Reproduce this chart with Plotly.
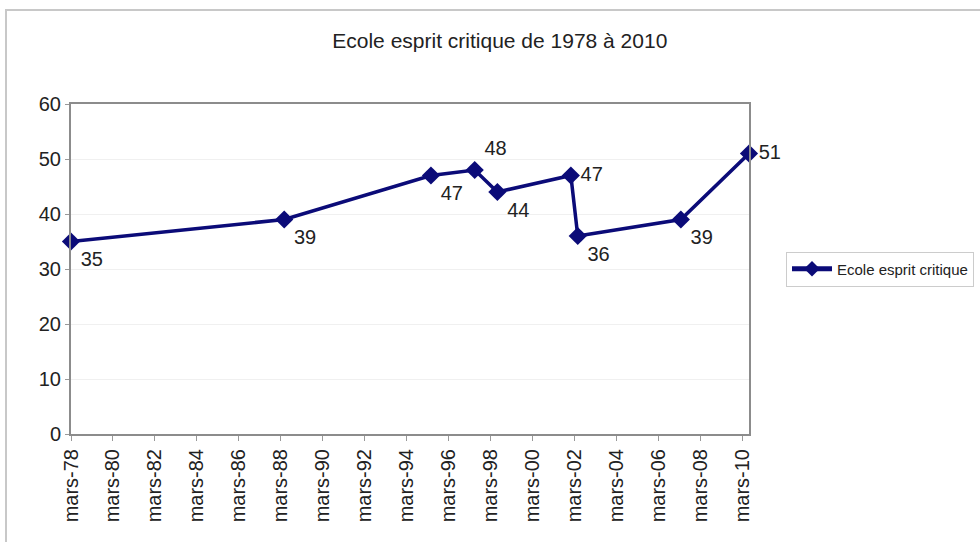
import plotly.graph_objects as go

# Survey dates and scores
dates = ["1978-03-01", "1988-05-01", "1995-05-01", "1997-06-01", "1998-07-01",
         "2002-01-01", "2002-05-01", "2007-04-01", "2010-07-01"]
scores = [35, 39, 47, 48, 44, 47, 36, 39, 51]
label_pos = ["bottom right", "bottom right", "bottom right", "top right", "bottom right",
             "middle right", "bottom right", "bottom right", "middle right"]

tick_years = list(range(1978, 2011, 2))
tick_vals = [f"{y}-03-01" for y in tick_years]
tick_text = [f"mars-{y % 100:02d}" for y in tick_years]

series_name = "Ecole esprit critique"
title_text = "Ecole esprit critique de 1978 à 2010"

FONT = "Liberation Sans, Arial, sans-serif"
NAVY = "#0b0b78"

# plot area in pixels
L, R, T, B = 71, 749, 104, 434
PW, PH = R - L, B - T

fig = go.Figure()
fig.add_trace(go.Scatter(
    x=dates, y=scores, name=series_name,
    mode="lines+markers+text",
    text=[str(v) for v in scores],
    textposition=label_pos,
    textfont=dict(family=FONT, size=20, color="#222222"),
    line=dict(color=NAVY, width=3.5),
    marker=dict(symbol="diamond", size=14, color=NAVY),
    cliponaxis=False,
))

fig.update_layout(
    width=980, height=542,
    margin=dict(l=L, r=980 - R, t=T, b=542 - B, autoexpand=False),
    paper_bgcolor="white", plot_bgcolor="white",
    font=dict(family=FONT, color="#222222"),
    title=dict(text=title_text, x=0.51, xanchor="center", y=1 - 41 / 542, yanchor="middle",
               font=dict(family=FONT, size=21, color="#222222")),
    showlegend=True,
    legend=dict(x=(786 - L) / PW, y=0.5, xref="paper", yref="paper",
                xanchor="left", yanchor="middle",
                bordercolor="#cccccc", borderwidth=1,
                font=dict(family=FONT, size=15, color="#222222"),
                itemwidth=40, itemsizing="constant"),
    xaxis=dict(
        type="date",
        range=[dates[0], dates[-1]],
        tickvals=tick_vals, ticktext=tick_text,
        tickangle=-90,
        tickfont=dict(family=FONT, size=20, color="#222222"),
        ticks="outside", ticklen=5, tickcolor="#999999",
        showline=True, linecolor="#8c8c8c", linewidth=2, mirror=True,
        showgrid=False, zeroline=False,
    ),
    yaxis=dict(
        range=[0, 60], dtick=10,
        tickfont=dict(family=FONT, size=20, color="#222222"),
        ticks="outside", ticklen=4, tickcolor="#999999",
        showline=True, linecolor="#8c8c8c", linewidth=2, mirror=True,
        showgrid=True, gridcolor="#f0f0f0", gridwidth=1,
        zeroline=False,
    ),
)

# Outer chart frame
fig.add_shape(type="rect", xref="paper", yref="paper",
              x0=(6 - L) / PW, x1=(990 - L) / PW,
              y0=(B - 560) / PH, y1=(B - 10) / PH,
              line=dict(color="#c8c8c8", width=2), fillcolor="rgba(0,0,0,0)",
              layer="below")

fig.write_html("out.html")
